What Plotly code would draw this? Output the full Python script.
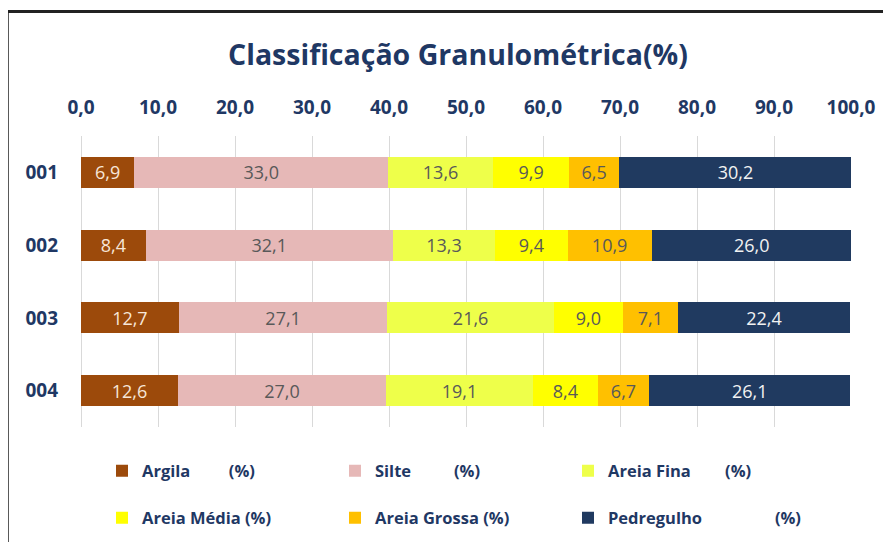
import plotly.graph_objects as go

categories = ["001", "002", "003", "004"]
series_names = ["Argila", "Silte", "Areia Fina", "Areia Média", "Areia Grossa", "Pedregulho"]
NB = "\u00a0"
legend_labels = [
    "Argila" + NB * 9 + "(%)",
    "Silte" + NB * 10 + "(%)",
    "Areia Fina" + NB * 8 + "(%)",
    "Areia Média (%)",
    "Areia Grossa" + NB + "(%)",
    "Pedregulho" + NB * 17 + "(%)",
]
argila = [6.9, 8.4, 12.7, 12.6]
silte = [33.0, 32.1, 27.1, 27.0]
areia_fina = [13.6, 13.3, 21.6, 19.1]
areia_media = [9.9, 9.4, 9.0, 8.4]
areia_grossa = [6.5, 10.9, 7.1, 6.7]
pedregulho = [30.2, 26.0, 22.4, 26.1]
values = [argila, silte, areia_fina, areia_media, areia_grossa, pedregulho]

colors = ["#9C4A0B", "#E6B8B7", "#EEFF4A", "#FFFF00", "#FFC000", "#203A60"]
text_colors = ["#F7E6D8", "#595959", "#595959", "#595959", "#595959", "#F2F2F2"]
NAVY = "#1F3864"
FONT = "Open Sans"

fig = go.Figure()
for i, (name, vals) in enumerate(zip(series_names, values)):
    fig.add_trace(go.Bar(
        y=categories, x=vals, orientation="h", name=legend_labels[i],
        marker=dict(color=colors[i], line=dict(width=0)),
        texttemplate="%{x:.1f}", textposition="inside", insidetextanchor="middle",
        textangle=0, textfont=dict(family=FONT, size=18, color=text_colors[i]),
        legend="legend" if i < 3 else "legend2",
        hoverinfo="skip",
    ))

# Pixel geometry (page has an 8px body margin, so figure coords = screen - 8)
OFF = 8
W, H = 891 - OFF, 542 - OFF
L, R, T, B = 81 - OFF, 40, 136 - OFF, 115
pw, ph = W - L - R, H - T - B
def px(x):
    return (x - OFF - L) / pw
def py(y):
    return (H - B - (y - OFF)) / ph

legend_common = dict(
    orientation="h", font=dict(family=FONT, size=16.5, color=NAVY, weight="bold"),
    entrywidth=188, entrywidthmode="pixels", bgcolor="rgba(0,0,0,0)",
    xanchor="left", yanchor="middle", itemclick=False, itemdoubleclick=False,
    traceorder="normal",
)

fig.update_layout(
    width=W, height=H,
    margin=dict(l=L, r=R, t=T, b=B, autoexpand=False),
    paper_bgcolor="white", plot_bgcolor="white",
    barmode="stack", bargap=0.575,
    separators=",.",
    title=dict(text="Classificação Granulométrica(%)", xref="paper", x=px(458), xanchor="center",
               y=1 - (55 - OFF) / H, yanchor="middle",
               font=dict(family=FONT, size=28.5, color=NAVY, weight="bold")),
    xaxis=dict(side="top", range=[0, 100], dtick=10, tickformat=".1f",
               showgrid=True, gridcolor="#D9D9D9", gridwidth=1,
               zeroline=True, zerolinecolor="#D9D9D9", zerolinewidth=1,
               showline=False, ticks="", ticklabelstandoff=17,
               tickfont=dict(family=FONT, size=19, color=NAVY, weight="bold")),
    yaxis=dict(autorange="reversed", showgrid=False, zeroline=False, showline=False,
               ticks="", ticklabelstandoff=22,
               tickfont=dict(family=FONT, size=19, color=NAVY, weight="bold")),
    legend=dict(x=px(102), y=py(471), **legend_common),
    legend2=dict(x=px(102), y=py(518), **legend_common),
    showlegend=True,
    shapes=[
        dict(type="line", xref="paper", yref="paper", x0=px(7), x1=px(900), y0=py(11.5), y1=py(11.5),
             line=dict(color="#222222", width=3)),
        dict(type="line", xref="paper", yref="paper", x0=px(8), x1=px(8), y0=py(10), y1=py(560),
             line=dict(color="#222222", width=1.5)),
    ],
)

fig.write_html("out.html")
